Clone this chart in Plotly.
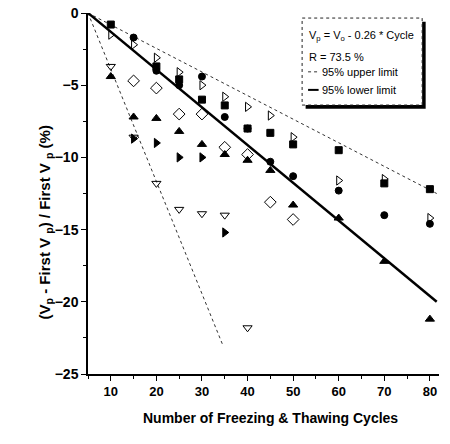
import plotly.graph_objects as go

cycles = [10, 15, 20, 25, 30, 35, 40, 45, 50, 60, 70, 80]

sq_filled = [-0.8, None, -3.7, -4.6, -6.0, -6.4, -8.0, -8.3, -9.1, -9.5, -11.8, -12.2]
circ_filled = [None, -1.7, -4.0, -5.0, -4.4, -7.2, -8.0, -10.3, -11.3, -12.3, -14.0, -14.6]
tri_up_filled = [-4.4, -7.2, -7.3, -8.2, -9.1, -9.8, -10.2, -10.9, -13.3, -14.2, -17.2, -21.2]
tri_right_open = [-1.5, -2.2, -3.1, -4.1, -5.0, -5.8, -6.5, -7.1, -8.6, -11.6, -11.5, -14.2]
diamond_open = [None, -4.7, -5.2, -7.0, -7.0, -9.3, -9.8, -13.1, -14.3, None, None, None]
tri_down_open = [-3.7, -8.6, -11.8, -13.6, -13.9, -14.0, -21.8, None, None, None, None, None]
tri_right_filled = [None, -8.7, -9.0, -10.0, -10.0, -15.2, None, None, None, None, None, None]

fit_x = [5, 81.5]
fit_y = [0, -20.0]
upper_x = [5, 81.5]
upper_y = [0, -12.5]
steep_x = [5, 34.7]
steep_y = [0, -23.1]

x_ticks = [10, 20, 30, 40, 50, 60, 70, 80]
y_ticks = [0, -5, -10, -15, -20, -25]

FONT = "Liberation Sans, Arial, sans-serif"

fig = go.Figure()

fig.add_trace(go.Scatter(x=steep_x, y=steep_y, mode="lines",
                         line=dict(color="#333", width=1, dash="dot")))
fig.add_trace(go.Scatter(x=upper_x, y=upper_y, mode="lines",
                         line=dict(color="#333", width=1, dash="dot")))
fig.add_trace(go.Scatter(x=fit_x, y=fit_y, mode="lines",
                         line=dict(color="black", width=2.5)))

series = [
    (sq_filled, "square", 7),
    (circ_filled, "circle", 7),
    (tri_up_filled, "triangle-up", 8),
    (tri_right_open, "triangle-right-open", 8),
    (diamond_open, "diamond-open", 9),
    (tri_down_open, "triangle-down-open", 8),
    (tri_right_filled, "triangle-right", 8),
]
for vals, sym, sz in series:
    fig.add_trace(go.Scatter(x=cycles, y=vals, mode="markers", cliponaxis=False,
                             marker=dict(symbol=sym, size=sz, color="black",
                                         line=dict(color="black", width=1))))

# legend box (shadow + box)
fig.add_shape(type="rect", xref="paper", yref="paper",
              x0=0.620, x1=0.962, y0=0.735, y1=0.976,
              fillcolor="black", line=dict(width=0))
fig.add_shape(type="rect", xref="paper", yref="paper",
              x0=0.610, x1=0.952, y0=0.745, y1=0.986,
              fillcolor="white", line=dict(color="#222", width=1, dash="dot"))
fig.add_shape(type="line", xref="paper", yref="paper",
              x0=0.627, x1=0.657, y0=0.837, y1=0.837,
              line=dict(color="#333", width=1, dash="dot"))
fig.add_shape(type="line", xref="paper", yref="paper",
              x0=0.627, x1=0.657, y0=0.787, y1=0.787,
              line=dict(color="black", width=2))

legend_lines = [
    ("V<sub>p</sub> = V<sub>o</sub> - 0.26 * Cycle", 0.625, 0.937),
    ("R = 73.5 %", 0.625, 0.878),
    ("95% upper limit", 0.662, 0.837),
    ("95% lower limit", 0.662, 0.787),
]
for txt, ax, ay in legend_lines:
    fig.add_annotation(text=txt, xref="paper", yref="paper", x=ax, y=ay,
                       xanchor="left", yanchor="middle", showarrow=False,
                       font=dict(family=FONT, size=11, color="black"))

# axis titles
fig.add_annotation(text="(V<sub>p</sub> - First V <sub>p</sub>) / First V <sub>p</sub> (%)",
                   xref="paper", yref="paper", x=-0.1225, y=0.42,
                   xanchor="center", yanchor="middle", textangle=-90, showarrow=False,
                   font=dict(family=FONT, size=15, weight="bold", color="black"))
fig.add_annotation(text="Number of Freezing & Thawing Cycles",
                   xref="paper", yref="paper", x=0.521, y=-0.122,
                   xanchor="center", yanchor="middle", showarrow=False,
                   font=dict(family=FONT, size=14, weight="bold", color="black"))

fig.update_layout(
    width=450, height=444,
    margin=dict(l=88, r=11, t=13, b=70),
    paper_bgcolor="white", plot_bgcolor="white",
    showlegend=False,
    font=dict(family=FONT, color="black"),
)
fig.update_xaxes(
    range=[5, 82], showgrid=False, zeroline=False, automargin=False,
    showline=True, linecolor="black", linewidth=1.5,
    ticks="outside", ticklen=5, tickcolor="black",
    tickvals=x_ticks,
    minor=dict(ticks="outside", ticklen=3, dtick=5, tick0=5, tickcolor="black"),
    tickfont=dict(family=FONT, size=13, weight="bold"),
)
fig.update_yaxes(
    range=[-25, 0], showgrid=False, zeroline=False, automargin=False,
    showline=True, linecolor="black", linewidth=1.5,
    ticks="outside", ticklen=5, tickcolor="black",
    tickvals=y_ticks, ticklabeloverflow="allow",
    minor=dict(ticks="outside", ticklen=3, dtick=2.5, tick0=0, tickcolor="black"),
    tickfont=dict(family=FONT, size=14, weight="bold"),
)

fig.write_html("out.html", config={"displayModeBar": False},
               post_script="document.body.style.margin='0px';")
